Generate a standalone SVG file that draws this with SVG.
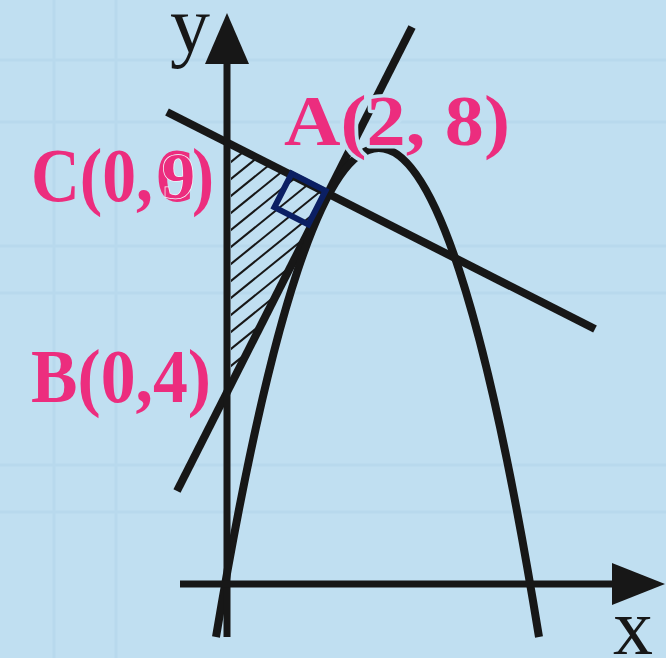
<svg xmlns="http://www.w3.org/2000/svg" width="666" height="658" viewBox="0 0 666 658">
<style>
.bg{fill:#c0dff1}
.grid line{stroke:#b8d9ed;stroke-width:3}
.ln{stroke:#171717;stroke-width:8;fill:none;stroke-linecap:butt}
.ax{stroke:#171717;stroke-width:7;fill:none}
.lbl{font-family:"Liberation Serif","Times New Roman",serif;font-weight:bold;fill:#ec2d7e}
.axl{font-family:"Liberation Serif","Times New Roman",serif;fill:#171717;font-size:80px}
.hatch{stroke:#171717;stroke-width:2}
</style>
<defs>
<clipPath id="tri"><polygon points="231,143 328,194 231,389"/></clipPath>
</defs>
<rect class="bg" x="0" y="0" width="666" height="658"/>
<g class="grid">
<line x1="54" y1="0" x2="54" y2="658"/>
<line x1="116" y1="0" x2="116" y2="658"/>
<line x1="0" y1="60" x2="666" y2="60"/>
<line x1="0" y1="122" x2="666" y2="122"/>
<line x1="0" y1="246" x2="666" y2="246"/>
<line x1="0" y1="293" x2="666" y2="293"/>
<line x1="0" y1="465" x2="666" y2="465"/>
<line x1="0" y1="512" x2="666" y2="512"/>
</g>
<g id="hatching" clip-path="url(#tri)">
<g class="hatch">
<line x1="200" y1="170" x2="400" y2="8"/>
<line x1="200" y1="187" x2="400" y2="25"/>
<line x1="200" y1="204" x2="400" y2="42"/>
<line x1="200" y1="221" x2="400" y2="59"/>
<line x1="200" y1="238" x2="400" y2="76"/>
<line x1="200" y1="255" x2="400" y2="93"/>
<line x1="200" y1="272" x2="400" y2="110"/>
<line x1="200" y1="289" x2="400" y2="127"/>
<line x1="200" y1="306" x2="400" y2="144"/>
<line x1="200" y1="323" x2="400" y2="161"/>
<line x1="200" y1="340" x2="400" y2="178"/>
<line x1="200" y1="357" x2="400" y2="195"/>
<line x1="200" y1="374" x2="400" y2="212"/>
<line x1="200" y1="391" x2="400" y2="229"/>
<line x1="200" y1="408" x2="400" y2="246"/>
</g>
</g>
<g id="connectors">
<line class="ln" x1="167" y1="112" x2="595" y2="329"/>
<line class="ln" x1="177" y1="491" x2="412" y2="27"/>
<path class="ln" d="M216,637 Q380,-341 539,637"/>
</g>
<g id="axes">
<line class="ax" x1="227" y1="637" x2="227" y2="60"/>
<polygon points="227,13 205,64 249,64" fill="#171717"/>
<line class="ax" x1="180" y1="584" x2="616" y2="584"/>
<polygon points="665,584 612,563 612,605" fill="#171717"/>
<text class="axl" x="170" y="52">y</text>
<text class="axl" x="613" y="654">x</text>
</g>
<g id="right-angle">
<rect x="-19" y="-19" width="38" height="38" fill="none" stroke="#0b1f63" stroke-width="6" transform="translate(300,199) rotate(27)"/>
</g>
<g id="label-A">
<text class="lbl" font-size="72" x="284" y="145" textLength="226" lengthAdjust="spacingAndGlyphs"><tspan>A</tspan><tspan stroke="#c0dff1" stroke-width="7" paint-order="stroke" stroke-linejoin="round">(2</tspan><tspan>, 8)</tspan></text>
</g>
<g id="label-C">
<text class="lbl" font-size="76" x="31" y="201" textLength="122" lengthAdjust="spacingAndGlyphs">C(0,</text>
<text class="lbl" font-size="76" x="156" y="201" textLength="38" lengthAdjust="spacingAndGlyphs">C</text>
<text class="lbl" font-size="66" x="162" y="198" stroke="#f2f8fc" stroke-width="1.5" paint-order="stroke">9</text>
<text class="lbl" font-size="76" x="192" y="201" textLength="22" lengthAdjust="spacingAndGlyphs">)</text>
</g>
<g id="label-B">
<text class="lbl" font-size="76" x="31" y="402" textLength="180" lengthAdjust="spacingAndGlyphs">B(0,4)</text>
</g>
</svg>
